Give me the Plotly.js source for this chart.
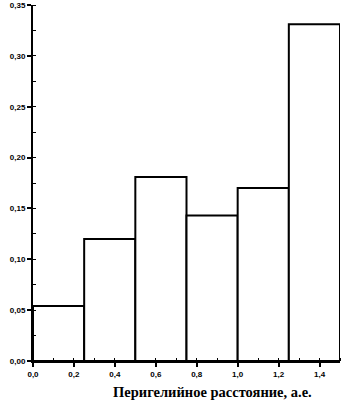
<!DOCTYPE html>
<html><head><meta charset="utf-8">
<script src="https://cdn.plot.ly/plotly-3.0.1.min.js"></script>
<style>html,body{margin:0;padding:0;background:#fff}#c{width:344px;height:400px}</style>
</head><body><div id="c"></div>
<script>
const binCenters = [0.125, 0.375, 0.625, 0.875, 1.125, 1.375];
const binWidth = 0.25;
const fractions = [0.054, 0.120, 0.181, 0.143, 0.170, 0.331];
const xTickVals = [0, 0.2, 0.4, 0.6, 0.8, 1.0, 1.2, 1.4];
const yTickVals = [0, 0.05, 0.10, 0.15, 0.20, 0.25, 0.30, 0.35];
const xTitle = 'Перигелийное расстояние, а.е.';

Plotly.newPlot('c', [{
  type: 'bar',
  x: binCenters,
  y: fractions,
  width: binCenters.map(() => binWidth),
  marker: {color: '#ffffff', line: {color: '#000', width: 2}},
  hoverinfo: 'skip'
}], {
  width: 344, height: 400,
  margin: {l: 33, r: 4, t: 5, b: 39},
  separators: ', ',
  paper_bgcolor: '#fff', plot_bgcolor: '#fff',
  showlegend: false,
  font: {family: 'Liberation Sans, Arial', color: '#000'},
  xaxis: {
    range: [0, 1.5], tickvals: xTickVals, tickformat: '.1f',
    showgrid: false, zeroline: false,
    showline: true, linecolor: '#000', linewidth: 2,
    ticks: 'outside', ticklen: 4, tickwidth: 2, tickcolor: '#000',
    tickfont: {size: 8, family: 'Liberation Sans, Arial', weight: 'bold'},
    minor: {ticks: 'inside', ticklen: 3, tickwidth: 1, dtick: 0.1, tickcolor: '#000'}
  },
  yaxis: {
    range: [0, 0.35], tickvals: yTickVals, tickformat: '.2f',
    showgrid: false, zeroline: false,
    showline: true, linecolor: '#000', linewidth: 2,
    ticks: 'outside', ticklen: 4, tickwidth: 2, tickcolor: '#000',
    tickfont: {size: 8, family: 'Liberation Sans, Arial', weight: 'bold'},
    minor: {ticks: 'inside', ticklen: 3, tickwidth: 1, dtick: 0.025, tickcolor: '#000'}
  },
  annotations: [{
    text: xTitle, xref: 'paper', yref: 'paper', x: 0.586, y: 0,
    xanchor: 'center', yanchor: 'middle', yshift: -31, showarrow: false,
    font: {family: 'Liberation Serif, Times New Roman', size: 14.5, weight: 'bold', color: '#000'}
  }],
  bargap: 0
}, {displayModeBar: false, staticPlot: true});
</script></body></html>
